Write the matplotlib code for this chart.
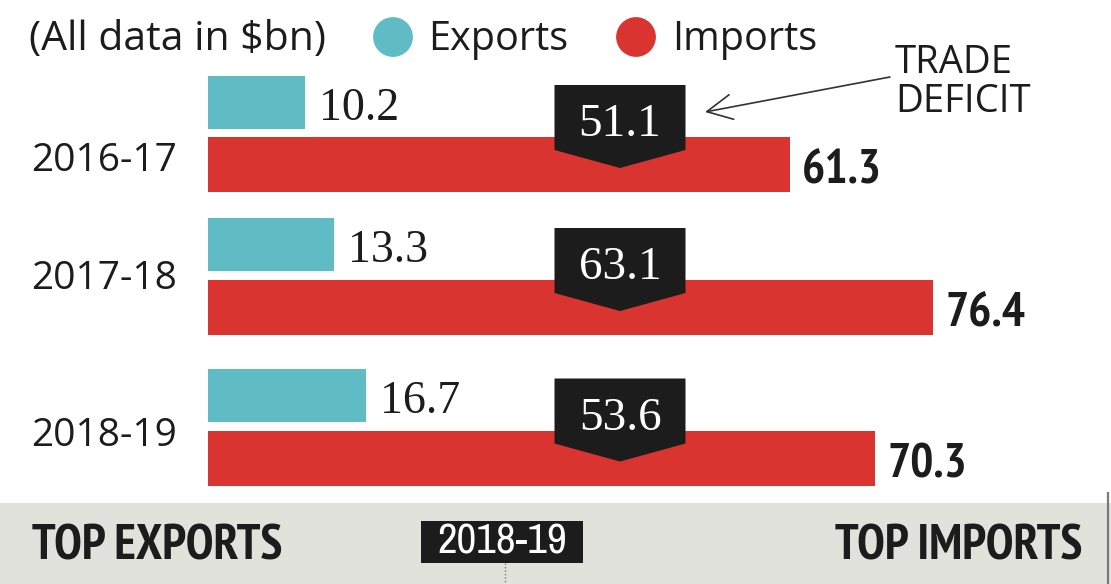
import matplotlib
matplotlib.use("Agg")
import os
import matplotlib.pyplot as plt
from matplotlib import font_manager as fm
from matplotlib.patches import Rectangle, Polygon

# ---- data ($bn) ----
years = ["2016-17", "2017-18", "2018-19"]
exports = [10.2, 13.3, 16.7]
imports = [61.3, 76.4, 70.3]
deficit = [round(i - e, 1) for i, e in zip(imports, exports)]
legend_labels = ["Exports", "Imports"]
unit_note = "(All data in $bn)"
footer_year = "2018-19"

# ---- style ----
TEAL = "#5fbcc4"
RED = "#d9342f"
INK = "#1c1c1c"
GREY = "#e2e2dd"


def _w(f):
    w = f.weight
    if isinstance(w, str):
        return fm.weight_dict.get(w, 400)
    return int(w)


def pick(bold):
    files = []
    for f in fm.fontManager.ttflist:
        b = os.path.basename(f.fname).lower()
        if "italic" in b or "oblique" in b:
            continue
        files.append((f, b))
    keys = ["narrow", "condensed"]
    for k in keys:
        for f, b in files:
            if k in b and "extra" not in b and "semi" not in b and "ultra" not in b:
                if bold and _w(f) == 700:
                    return fm.FontProperties(fname=f.fname)
                if not bold and _w(f) == 400:
                    return fm.FontProperties(fname=f.fname)
    fam = "Roboto" if any(f.name == "Roboto" for f, _ in files) else "DejaVu Sans"
    return fm.FontProperties(family=fam, weight="bold" if bold else "normal")


NB = pick(True)
NR = pick(False)

W, H = 1111, 584
fig = plt.figure(figsize=(W / 100, H / 100), dpi=100)
fig.patch.set_facecolor("white")
ax = fig.add_axes([0, 0, 1, 1])
X0, S = 208, 9.49  # pixel of zero, pixels per $bn
ax.set_xlim(-X0 / S, (W - X0) / S)
ax.set_ylim(H, 0)
ax.axis("off")
renderer = fig.canvas.get_renderer()


def px(x):
    return (x - X0) / S


def fit(t, target_w, max_size):
    t.set_fontsize(max_size)
    w = t.get_window_extent(renderer).width
    if w > target_w:
        t.set_fontsize(max_size * target_w / w)
    return t


SANS = ["Open Sans", "DejaVu Sans"]
SERIF = ["Liberation Serif", "DejaVu Serif"]

# layout
exp_y = [102, 244.5, 395]
imp_y = [164.5, 307.5, 458]
exp_h, imp_h = 53, 55
year_base = [171, 289, 446]

# bars
ax.barh(exp_y, exports, height=exp_h, color=TEAL, zorder=2)
ax.barh(imp_y, imports, height=imp_h, color=RED, zorder=2)

imp_size = None
for i in range(3):
    imp_top = imp_y[i] - imp_h / 2
    # year labels
    ax.text(px(31), year_base[i], years[i], fontsize=28, family=SANS,
            color=INK, ha="left", va="baseline")
    # export value
    ax.text(exports[i] + 14 / S, exp_y[i] + 18, f"{exports[i]:.1f}",
            fontsize=33, family=SERIF, color=INK, ha="left", va="baseline")
    # import value
    t = ax.text(imports[i] + 12 / S, imp_y[i] + 19, f"{imports[i]:.1f}",
                fontproperties=NB, color=INK, ha="left", va="baseline")
    if imp_size is None:
        fit(t, 80, 35)
        imp_size = t.get_fontsize()
    else:
        t.set_fontsize(imp_size)
    # deficit badge
    cx, hw = px(620), 65.5 / S
    top = imp_top - 52
    pt = imp_top + 31
    sb = pt - 18
    ax.add_patch(Polygon([(cx - hw, top), (cx + hw, top), (cx + hw, sb),
                          (cx, pt), (cx - hw, sb)], closed=True,
                         facecolor=INK, edgecolor="none", zorder=3))
    ax.text(cx, imp_top - 1, f"{deficit[i]:.1f}", fontsize=34, family=SERIF,
            color="white", ha="center", va="baseline", zorder=4)

# legend / header
ax.text(px(29), 50, unit_note, fontsize=29.5, family=SANS, color=INK,
        ha="left", va="baseline")
ax.scatter([px(393), px(636)], [37, 37], s=820, c=[TEAL, RED],
           edgecolors="none", zorder=3)
ax.text(px(428), 50, legend_labels[0], fontsize=28.5, family=SANS, color=INK,
        ha="left", va="baseline")
ax.text(px(672), 50, legend_labels[1], fontsize=28.5, family=SANS, color=INK,
        ha="left", va="baseline")

# trade deficit annotation
ax.text(px(895), 73, "TRADE", fontsize=27.5, family=SANS, color=INK,
        ha="left", va="baseline")
ax.text(px(895), 112, "DEFICIT", fontsize=27.5, family=SANS, color=INK,
        ha="left", va="baseline")
ax.annotate("", xy=(px(705), 112), xytext=(px(890), 77),
            arrowprops=dict(arrowstyle="->,head_length=0.9,head_width=0.45",
                            color="#333333", lw=1.2, mutation_scale=20,
                            shrinkA=0, shrinkB=0))

# footer band
ax.add_patch(Rectangle((px(0), 503), W / S, H - 503, facecolor=GREY,
                       edgecolor="none", zorder=0))
ax.plot([px(1108), px(1108)], [493, H], color="#7a7a7a", lw=1.6, zorder=1)
t1 = ax.text(px(32), 560, "TOP EXPORTS", fontproperties=NB, color=INK,
             ha="left", va="baseline")
fit(t1, 263, 36)
t2 = ax.text(px(1082), 560, "TOP IMPORTS", fontproperties=NB, color=INK,
             ha="right", va="baseline")
t2.set_fontsize(t1.get_fontsize())
ax.add_patch(Rectangle((px(421), 521), 162 / S, 42, facecolor=INK,
                       edgecolor="none", zorder=2))
t3 = ax.text(px(502), 554, footer_year, fontproperties=NR, color="white",
             ha="center", va="baseline", zorder=3)
fit(t3, 133, 31)
ax.plot([px(505), px(505)], [563, H], color="#777777", lw=1,
        linestyle=(0, (1, 1.5)), zorder=1)

fig.savefig("out.png", dpi=100)
